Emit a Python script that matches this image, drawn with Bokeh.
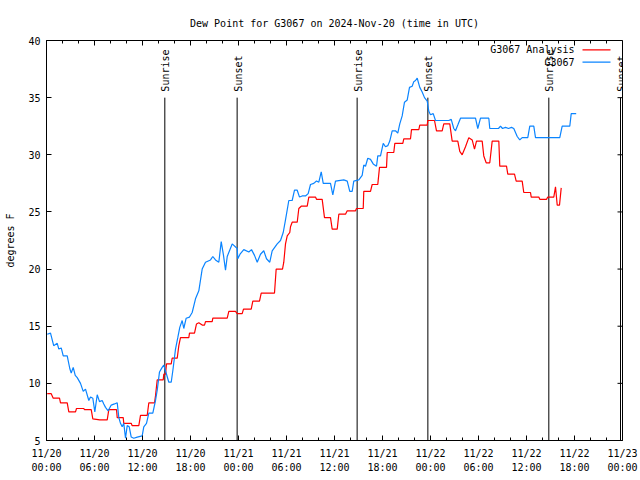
import math
from bokeh.plotting import figure
from bokeh.models import Range1d, FixedTicker, LinearAxis, Label, BoxAnnotation
from bokeh.core.properties import value
from bokeh.embed import file_html
from bokeh.resources import INLINE

# ---- data (hours since 2024-11-20 00:00 UTC) ----
blue_t = [0.09, 0.5, 0.9, 1.34, 1.54, 1.84, 2.09, 2.59, 2.91, 3.09, 3.34, 3.59, 3.84, 4.25, 4.59, 4.875,
          5.29, 5.5, 5.79, 6.04, 6.34, 6.625, 6.96, 7.16, 7.375, 7.71, 8.09, 8.5, 8.84, 9.04, 9.25, 9.46,
          9.66, 9.875, 10.09, 10.34, 10.59, 10.91, 11.34, 11.96, 12.16, 12.5, 12.79, 13.29, 13.625, 13.84,
          14.125, 14.46, 14.66, 14.875, 15.29, 15.59, 15.79, 16.125, 16.41, 16.66, 16.96, 17.16, 17.46,
          17.875, 18.21, 18.625, 19.04, 19.46, 19.875, 20.5, 20.79, 21.125, 21.54, 21.84, 22.125, 22.375,
          22.59, 23.21, 23.84, 23.91, 24.19, 24.66, 25.29, 25.625, 26.0, 26.34, 26.75, 27.16, 27.5, 27.91,
          28.21, 28.84, 29.25, 29.59, 29.875, 30.29, 30.71, 31.0, 31.34, 31.625, 31.96, 32.375, 32.71,
          33.0, 33.41, 33.75, 34.04, 34.34, 34.59, 35.5, 35.79, 36.125, 37.16, 37.59, 37.91, 38.21,
          38.41, 39.04, 39.46, 39.66, 39.875, 40.16, 40.5, 40.84, 41.25, 41.41, 41.75, 42.09, 42.375,
          42.66, 42.91, 43.21, 43.625, 43.91, 44.16, 44.46, 44.75, 45.09, 45.375, 45.71, 45.91, 46.125,
          46.34, 46.66, 46.96, 47.25, 47.59, 47.79, 48.0, 48.34, 48.625, 49.04, 50.29, 50.59, 50.91,
          51.125, 51.41, 51.75, 53.625, 53.91, 54.25, 55.29, 55.41, 56.5, 56.75, 57.0, 57.375, 57.75,
          58.125, 58.41, 58.84, 59.16, 59.46, 60.16, 60.41, 60.91, 61.125, 64.16, 64.46, 65.41, 65.59, 66.21]
blue_v = [14.3, 14.4, 13.3, 13.5, 13.0, 13.1, 12.4, 12.4, 11.3, 10.9, 11.4, 10.7, 10.5, 10.0, 9.3, 9.5,
          8.5, 8.8, 8.7, 7.5, 9.0, 8.4, 8.5, 8.2, 7.9, 7.6, 8.1, 8.2, 8.3, 7.0, 6.5, 6.2,
          6.5, 5.2, 6.3, 6.2, 5.3, 5.2, 5.3, 5.4, 6.2, 6.5, 7.4, 7.4, 8.5, 9.4,
          11.0, 11.4, 11.6, 11.1, 10.1, 10.1, 11.1, 13.0, 14.0, 14.9, 15.5, 14.8, 15.7,
          15.8, 16.2, 17.4, 18.1, 20.0, 20.6, 20.8, 21.1, 20.8, 20.6, 22.4, 21.2, 19.9,
          21.1, 22.2, 21.8, 20.9, 21.3, 21.7, 21.5, 21.7, 21.2, 20.6, 21.3, 21.6, 20.9, 20.6,
          21.6, 22.2, 22.5, 23.2, 24.3, 26.0, 26.0, 26.9, 26.9, 26.3, 26.4, 26.4, 26.6,
          27.4, 27.5, 27.7, 27.6, 28.5, 27.5, 27.5, 26.5, 27.7, 27.8, 27.7, 26.8, 26.8,
          27.7, 27.8, 28.2, 29.1, 29.0, 29.7, 29.6, 29.2, 29.0, 29.9, 29.9, 31.0, 30.7,
          30.8, 31.2, 32.1, 32.1, 31.9, 32.7, 33.4, 34.6, 34.8, 35.9, 36.0, 36.4, 36.5,
          36.7, 35.9, 35.5, 35.0, 34.7, 33.8, 33.5, 33.6, 33.0, 33.0, 33.0, 33.1, 32.3,
          32.1, 32.6, 33.2, 33.2, 32.3, 33.2, 33.2, 32.3, 32.3, 32.5, 32.3, 32.4, 32.3,
          32.4, 32.3, 31.6, 31.3, 31.5, 31.5, 32.5, 32.5, 31.5, 31.5, 32.5, 32.5, 33.6, 33.6]

red_t = [0.09, 0.59, 0.84, 1.625, 1.75, 2.59, 2.79, 3.625, 3.75, 4.66, 4.75, 5.59, 5.79, 6.66, 7.59,
         7.79, 8.75, 8.84, 9.59, 9.66, 10.59, 10.71, 11.54, 11.75, 12.59, 12.79, 13.5, 13.625, 13.84,
         14.59, 14.66, 14.875, 15.0, 15.59, 15.71, 16.34, 16.54, 16.75, 17.79, 17.875, 18.5, 18.75,
         19.04, 19.46, 19.75, 19.875, 20.71, 20.79, 22.59, 22.79, 23.625, 23.84, 24.46, 24.625, 25.59,
         25.79, 26.625, 26.84, 28.5, 28.71, 29.5, 29.66, 29.875, 30.09, 30.41, 30.5, 30.71, 31.34,
         31.54, 31.84, 32.59, 32.79, 33.625, 33.75, 34.46, 34.75, 35.5, 35.71, 36.34, 36.54, 37.375,
         37.59, 38.625, 38.75, 39.59, 39.66, 40.5, 40.71, 41.41, 41.625, 42.5, 42.59, 43.41, 43.54,
         44.54, 44.66, 45.5, 45.625, 46.54, 46.66, 47.59, 47.66, 48.5, 48.75, 49.46, 49.66, 50.41,
         50.71, 51.41, 51.66, 51.96, 52.375, 52.79, 53.21, 53.5, 53.75, 54.46, 54.66, 54.96, 55.41,
         55.71, 56.54, 56.66, 57.5, 57.66, 58.5, 58.71, 59.46, 59.66, 60.5, 60.59, 61.54, 61.66,
         62.5, 62.66, 63.41, 63.625, 63.84, 64.125, 64.34]
red_v = [9.1, 9.1, 8.7, 8.7, 8.3, 8.3, 7.5, 7.5, 7.8, 7.8, 7.7, 7.7, 6.9, 6.8, 6.8,
         7.7, 7.7, 7.0, 7.0, 6.5, 6.5, 6.3, 6.3, 7.2, 7.2, 8.3, 8.3, 8.9, 10.3,
         10.3, 10.8, 10.8, 11.7, 11.7, 12.2, 12.2, 13.3, 14.0, 14.0, 14.4, 14.4, 15.2,
         15.3, 15.1, 15.1, 15.4, 15.4, 15.7, 15.7, 16.3, 16.3, 16.1, 16.1, 16.5, 16.5,
         17.2, 17.2, 17.9, 17.9, 20.0, 20.0, 20.6, 22.2, 22.9, 23.2, 23.7, 24.1, 24.1,
         25.3, 25.5, 25.5, 26.3, 26.3, 26.1, 26.1, 24.5, 24.5, 23.5, 23.5, 24.8, 24.8,
         25.1, 25.1, 25.3, 25.3, 26.8, 26.8, 27.4, 27.4, 28.9, 28.9, 30.2, 30.2, 31.0,
         31.0, 31.4, 31.4, 32.2, 32.2, 32.6, 32.6, 33.0, 33.0, 32.1, 32.1, 32.7, 32.7,
         31.2, 31.2, 30.3, 30.0, 30.7, 31.5, 31.3, 30.5, 31.2, 31.2, 29.9, 29.3, 29.3,
         31.2, 31.2, 29.0, 29.0, 28.3, 28.3, 27.7, 27.7, 26.7, 26.7, 26.3, 26.3, 26.1,
         26.1, 26.3, 26.3, 27.2, 25.6, 25.6, 27.1]

sunrise_t = [14.79, 38.83, 62.79]
sunset_t = [23.83, 47.67, 71.75]

x_ticks = [0, 6, 12, 18, 24, 30, 36, 42, 48, 54, 60, 66, 72]
x_tick_labels = ["11/20\n00:00", "11/20\n06:00", "11/20\n12:00", "11/20\n18:00",
                 "11/21\n00:00", "11/21\n06:00", "11/21\n12:00", "11/21\n18:00",
                 "11/22\n00:00", "11/22\n06:00", "11/22\n12:00", "11/22\n18:00",
                 "11/23\n00:00"]
x_minor = [t for t in range(0, 73, 2) if t % 6 != 0]
y_ticks = [5, 10, 15, 20, 25, 30, 35, 40]
series_names = ["G3067 Analysis", "G3067"]

FONT = "DejaVu Sans Mono"
RED = "#ff0000"
BLUE = "#0a84ff"
X0, X1, Y0, Y1 = 0, 72, 5, 40

p = figure(width=640, height=480, x_range=Range1d(X0, X1), y_range=Range1d(Y0, Y1),
           output_backend="svg", toolbar_location=None, x_axis_type=None, y_axis_type=None,
           min_border_left=46, min_border_right=18, min_border_top=40, min_border_bottom=40)
p.grid.visible = False
p.outline_line_color = "black"
p.outline_line_width = 1

p.title.text = "Dew Point for G3067 on 2024-Nov-20 (time in UTC)"
p.title.align = "center"
p.title.text_font = FONT
p.title.text_font_size = "10px"
p.title.text_font_style = "normal"
p.title.text_color = "black"
p.title.standoff = 23

xt = FixedTicker(ticks=x_ticks, minor_ticks=x_minor)
yt = FixedTicker(ticks=y_ticks, minor_ticks=[])


def style_axis(ax):
    ax.axis_line_color = "black"
    ax.major_tick_line_color = "black"
    ax.minor_tick_line_color = "black"
    ax.major_tick_in = 5
    ax.major_tick_out = 0
    ax.minor_tick_in = 3
    ax.minor_tick_out = 0
    ax.major_label_text_font = FONT
    ax.major_label_text_color = "black"
    ax.major_label_text_font_size = "10px"


bottom = LinearAxis(ticker=xt)
style_axis(bottom)
bottom.major_label_overrides = {t: s for t, s in zip(x_ticks, x_tick_labels)}
bottom.major_label_standoff = 7
bottom.major_label_text_line_height = 1.35
p.add_layout(bottom, "below")

left = LinearAxis(ticker=yt, axis_label="degrees F")
style_axis(left)
left.major_label_standoff = 6
left.axis_label_text_font = FONT
left.axis_label_text_font_size = "10px"
left.axis_label_text_font_style = "normal"
left.axis_label_text_color = "black"
left.axis_label_standoff = 9
p.add_layout(left, "left")

# mirrored inward ticks on the top and right edges (clipped to the frame)
p.scatter(x=x_ticks, y=Y1, marker="dash", angle=math.pi / 2, size=10,
          line_color="black", line_width=1)
p.scatter(x=x_minor, y=Y1, marker="dash", angle=math.pi / 2, size=6,
          line_color="black", line_width=1)
p.scatter(x=X1, y=y_ticks, marker="dash", size=10, line_color="black", line_width=1)

# sunrise / sunset markers
sun_t = sunrise_t + sunset_t
p.segment(x0=sun_t, y0=Y0, x1=sun_t, y1=35, line_color="black", line_width=1)
p.text(x=sunrise_t, y=35, text=["Sunrise"] * len(sunrise_t), angle=math.pi / 2,
       text_align="left", text_baseline="middle", y_offset=-6, x_offset=1,
       text_font=value(FONT), text_font_size="10px", text_color="black")
p.text(x=sunset_t, y=35, text=["Sunset"] * len(sunset_t), angle=math.pi / 2,
       text_align="left", text_baseline="middle", y_offset=-6, x_offset=1,
       text_font=value(FONT), text_font_size="10px", text_color="black")

p.line(red_t, red_v, line_color=RED, line_width=1.2)
p.line(blue_t, blue_v, line_color=BLUE, line_width=1.2)

# key (text on the left, line sample on the right), frame-relative screen units
for name, col, yy in zip(series_names, [RED, BLUE], [390.7, 378.3]):
    p.add_layout(Label(x=528, y=yy, x_units="screen", y_units="screen", text=name,
                       text_align="right", text_baseline="middle", text_font=FONT,
                       text_font_size="10px", text_color="black"))
    p.add_layout(BoxAnnotation(left=536, right=564, bottom=yy - 0.6, top=yy + 0.6,
                               left_units="screen", right_units="screen",
                               bottom_units="screen", top_units="screen",
                               fill_color=col, fill_alpha=1, line_color=None))

open("out.html", "w").write(file_html(p, INLINE))
